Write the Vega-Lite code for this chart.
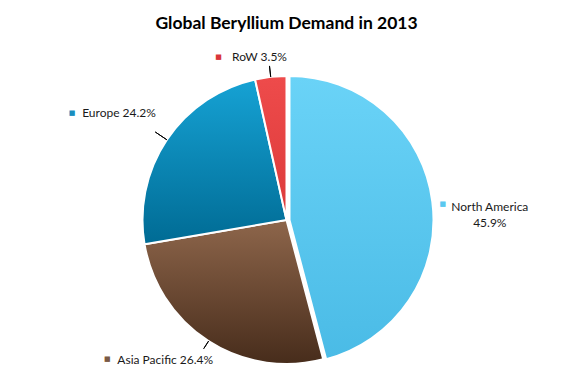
{
  "$schema": "https://vega.github.io/schema/vega-lite/v6.json",
  "width": 573,
  "height": 314,
  "autosize": {"type": "none"},
  "padding": {"top": 63, "left": 0, "right": 0, "bottom": 0},
  "background": "white",
  "title": {"text": "Global Beryllium Demand in 2013", "font": "Lato", "fontSize": 17.5, "fontWeight": "bold", "color": "#000000", "offset": 18, "anchor": "middle"},
  "config": {"view": {"stroke": null}},
  "data": {"values": [
    {"region": "North America", "share": 0.459, "label": "North America\n45.9%"},
    {"region": "Asia Pacific", "share": 0.264, "label": "Asia Pacific 26.4%"},
    {"region": "Europe", "share": 0.242, "label": "Europe 24.2%"},
    {"region": "RoW", "share": 0.035, "label": "RoW 3.5%"}
  ]},
  "transform": [{"stack": "share", "groupby": [], "sort": [{"field": "share", "order": "descending"}], "as": ["t0", "t1"]}],
  "encoding": {
    "theta": {"field": "t0", "type": "quantitative", "scale": {"domain": [0, 1]}},
    "theta2": {"field": "t1"}
  },
  "layer": [
    {"transform": [{"filter": "datum.region === 'North America'"}],
     "mark": {"type": "arc", "outerRadius": 144, "stroke": "white", "strokeWidth": 2, "xOffset": 3,
       "fill": {"gradient": "linear", "x1": 0, "y1": 0, "x2": 0, "y2": 1, "stops": [{"offset": 0, "color": "#6AD3F7"}, {"offset": 1, "color": "#4ABBE6"}]}}},
    {"transform": [{"filter": "datum.region === 'Asia Pacific'"}],
     "mark": {"type": "arc", "outerRadius": 144, "stroke": "white", "strokeWidth": 2,
       "fill": {"gradient": "linear", "x1": 0, "y1": 0, "x2": 0, "y2": 1, "stops": [{"offset": 0, "color": "#8E664B"}, {"offset": 1, "color": "#472C1B"}]}}},
    {"transform": [{"filter": "datum.region === 'Europe'"}],
     "mark": {"type": "arc", "outerRadius": 144, "stroke": "white", "strokeWidth": 2,
       "fill": {"gradient": "linear", "x1": 0, "y1": 0, "x2": 0, "y2": 1, "stops": [{"offset": 0, "color": "#16A2D4"}, {"offset": 1, "color": "#006B94"}]}}},
    {"transform": [{"filter": "datum.region === 'RoW'"}],
     "mark": {"type": "arc", "outerRadius": 144, "stroke": "white", "strokeWidth": 2,
       "fill": {"gradient": "linear", "x1": 0, "y1": 0, "x2": 0, "y2": 1, "stops": [{"offset": 0, "color": "#EE4B4B"}, {"offset": 1, "color": "#DC3A3A"}]}}},
    {"transform": [{"filter": "datum.region === 'RoW'"}],
     "mark": {"type": "arc", "innerRadius": 144, "outerRadius": 155, "padAngle": 1.3, "filled": false, "stroke": "#000000", "strokeWidth": 1}},
    {"transform": [{"filter": "datum.region === 'Europe'"}],
     "mark": {"type": "arc", "innerRadius": 144, "outerRadius": 158, "padAngle": 1.3, "filled": false, "stroke": "#000000", "strokeWidth": 1}},
    {"transform": [{"filter": "datum.region === 'Asia Pacific'"}],
     "mark": {"type": "arc", "innerRadius": 144, "outerRadius": 153, "padAngle": 1.3, "filled": false, "stroke": "#000000", "strokeWidth": 1}},
    {"transform": [{"filter": "datum.region === 'North America'"}],
     "mark": {"type": "text", "radius": 205, "thetaOffset": 1.442, "dx": 0, "dy": 13, "align": "center", "baseline": "middle", "lineBreak": "\n", "lineHeight": 16, "font": "Lato", "fontSize": 12, "color": "#1A1A1A"},
     "encoding": {"text": {"field": "label"}}},
    {"transform": [{"filter": "datum.region === 'Asia Pacific'"}],
     "mark": {"type": "text", "radius": 165, "thetaOffset": 0.8294, "dx": -32, "dy": 1, "align": "center", "baseline": "middle", "font": "Lato", "fontSize": 12, "color": "#1A1A1A"},
     "encoding": {"text": {"field": "label"}}},
    {"transform": [{"filter": "datum.region === 'Europe'"}],
     "mark": {"type": "text", "radius": 198, "thetaOffset": 0.7603, "dx": -3, "dy": 3, "align": "center", "baseline": "middle", "font": "Lato", "fontSize": 12, "color": "#1A1A1A"},
     "encoding": {"text": {"field": "label"}}},
    {"transform": [{"filter": "datum.region === 'RoW'"}],
     "mark": {"type": "text", "radius": 164, "thetaOffset": 0.11, "dx": -9, "dy": 0, "align": "center", "baseline": "middle", "font": "Lato", "fontSize": 12, "color": "#1A1A1A"},
     "encoding": {"text": {"field": "label"}}},
    {"transform": [{"filter": "datum.region === 'North America'"}],
     "mark": {"type": "text", "text": "■", "radius": 205, "thetaOffset": 1.442, "dx": -47, "dy": 10, "align": "center", "baseline": "middle", "font": "DejaVu Sans", "fontSize": 7, "color": "#5BC8F0"}},
    {"transform": [{"filter": "datum.region === 'Asia Pacific'"}],
     "mark": {"type": "text", "text": "■", "radius": 165, "thetaOffset": 0.8294, "dx": -90, "dy": 0, "align": "center", "baseline": "middle", "font": "DejaVu Sans", "fontSize": 7, "color": "#7A5A45"}},
    {"transform": [{"filter": "datum.region === 'Europe'"}],
     "mark": {"type": "text", "text": "■", "radius": 198, "thetaOffset": 0.7603, "dx": -50, "dy": 3, "align": "center", "baseline": "middle", "font": "DejaVu Sans", "fontSize": 7, "color": "#1A8EBE"}},
    {"transform": [{"filter": "datum.region === 'RoW'"}],
     "mark": {"type": "text", "text": "■", "radius": 164, "thetaOffset": 0.11, "dx": -50, "dy": 0, "align": "center", "baseline": "middle", "font": "DejaVu Sans", "fontSize": 7, "color": "#D9363B"}}
  ]
}
